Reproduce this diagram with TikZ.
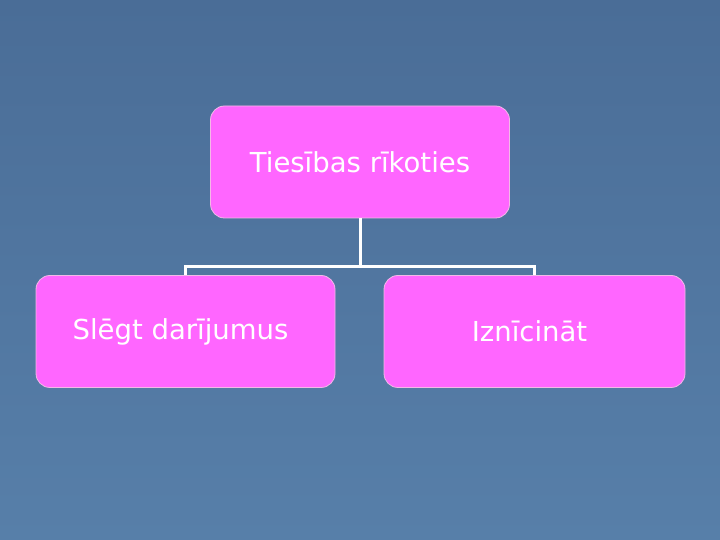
\documentclass[tikz,border=0pt]{standalone}
\usepackage{fontspec}
\setmainfont{DejaVu Sans}
\definecolor{bgtop}{HTML}{4A6D97}
\definecolor{bgbot}{HTML}{577FA9}
\definecolor{boxfill}{HTML}{FF66FF}
\definecolor{boxline}{HTML}{F4B8E8}
\begin{document}
\begin{tikzpicture}[x=1pt,y=1pt,
  box/.style={draw=boxline, line width=0.8pt, fill=boxfill, rounded corners=14pt,
    minimum width=299pt, minimum height=112pt, text=white, font=\fontsize{27.5}{32}\selectfont, inner sep=0pt},
  conn/.style={draw=white, line width=3pt}]
\shade[top color=bgtop, bottom color=bgbot] (0,0) rectangle (720,540);
\useasboundingbox (0,0) rectangle (720,540);
\node[box] (top) at (360,378) {Tiesības rīkoties};
\node[box] (left) at (185.5,208.5) {\hspace*{-10pt}Slēgt darījumus};
\node[box, minimum width=301pt] (right) at (534.5,208.5) {\hspace*{-10pt}Iznīcināt};
\coordinate (mid) at (360,273);
\draw[conn] (top.south) -- (mid);
\draw[conn] (left.north) |- (mid) -| (right.north);
\end{tikzpicture}
\end{document}
